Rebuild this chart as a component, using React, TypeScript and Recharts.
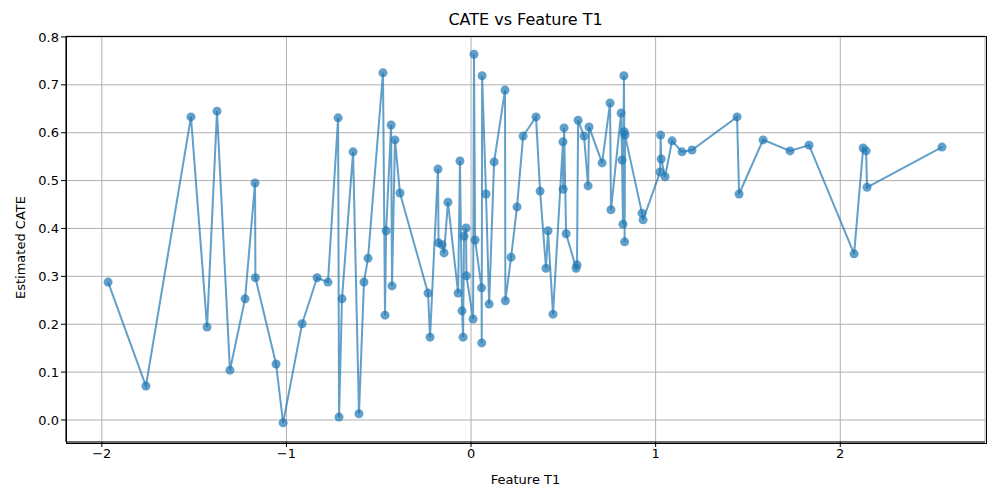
import { LineChart, Line, XAxis, YAxis, CartesianGrid, Label } from 'recharts';

const featureT1 = [
  -1.966, -1.761, -1.517, -1.43, -1.376, -1.306, -1.224, -1.17, -1.168, -1.056,
  -1.018, -0.915, -0.834, -0.775, -0.72, -0.715, -0.699, -0.639, -0.607, -0.58,
  -0.558, -0.477, -0.466, -0.46, -0.433, -0.428, -0.412, -0.385, -0.233, -0.222,
  -0.179, -0.176, -0.157, -0.146, -0.125, -0.07, -0.06, -0.049, -0.043, -0.038,
  -0.027, -0.025, 0.011, 0.016, 0.022, 0.057, 0.058, 0.06, 0.081, 0.098,
  0.125, 0.184, 0.186, 0.217, 0.249, 0.282, 0.352, 0.374, 0.406, 0.417,
  0.444, 0.498, 0.499, 0.504, 0.515, 0.569, 0.574, 0.58, 0.612, 0.634,
  0.639, 0.71, 0.753, 0.758, 0.813, 0.818, 0.823, 0.828, 0.83, 0.832,
  0.834, 0.926, 0.932, 1.024, 1.027, 1.03, 1.051, 1.089, 1.143, 1.197,
  1.441, 1.452, 1.582, 1.728, 1.831, 2.075, 2.124, 2.14, 2.145, 2.551,
];

const cate = [
  0.288, 0.071, 0.633, 0.194, 0.645, 0.104, 0.253, 0.495, 0.297, 0.117,
  -0.006, 0.201, 0.297, 0.288, 0.631, 0.006, 0.253, 0.56, 0.013, 0.288,
  0.338, 0.725, 0.219, 0.395, 0.616, 0.28, 0.585, 0.474, 0.265, 0.173,
  0.524, 0.37, 0.366, 0.349, 0.455, 0.265, 0.541, 0.228, 0.173, 0.384,
  0.401, 0.301, 0.211, 0.764, 0.376, 0.276, 0.161, 0.719, 0.472, 0.242,
  0.539, 0.689, 0.249, 0.34, 0.445, 0.593, 0.633, 0.478, 0.317, 0.395,
  0.221, 0.581, 0.482, 0.61, 0.389, 0.317, 0.324, 0.626, 0.593, 0.489,
  0.612, 0.537, 0.662, 0.439, 0.641, 0.543, 0.409, 0.719, 0.602, 0.372,
  0.595, 0.432, 0.418, 0.518, 0.595, 0.545, 0.508, 0.583, 0.56, 0.564,
  0.633, 0.472, 0.585, 0.562, 0.574, 0.347, 0.568, 0.562, 0.486, 0.57,
];

const xTicks = [-2, -1, 0, 1, 2];
const yTicks = [0, 0.1, 0.2, 0.3, 0.4, 0.5, 0.6, 0.7, 0.8];

const data = featureT1.map((x, i) => ({ x, y: cate[i] }));

const font = 'DejaVu Sans';
const blue = '#1f77b4';
const minus = (s: string) => s.replace('-', '\u2212');

export default function App() {
  return (
    <div style={{ margin: -8, width: 1000, height: 500, background: '#fff', position: 'relative' }}>
      <div
        style={{
          position: 'absolute', top: 10, left: 66, width: 919, textAlign: 'center',
          fontFamily: font, fontSize: 16, color: '#000',
        }}
      >
        CATE vs Feature T1
      </div>
      <LineChart width={1000} height={500} data={data} margin={{ top: 36, right: 15, bottom: 0, left: 0 }}>
        <CartesianGrid stroke="#b0b0b0" strokeWidth={1} />
        <XAxis
          dataKey="x"
          type="number"
          domain={[-2.194, 2.784]}
          ticks={xTicks}
          height={58}
          stroke="#000"
          tickFormatter={(v: number) => minus(String(v))}
          tick={{ fill: '#000', fontFamily: font, fontSize: 13 }}
          tickSize={5}
        >
          <Label value="Feature T1" position="insideBottom" offset={16} fill="#000" fontFamily={font} fontSize={13} />
        </XAxis>
        <YAxis
          type="number"
          domain={[-0.046, 0.802]}
          ticks={yTicks}
          width={66}
          stroke="#000"
          tickFormatter={(v: number) => minus(v.toFixed(1))}
          tick={{ fill: '#000', fontFamily: font, fontSize: 13 }}
          tickSize={5}
        >
          <Label value="Estimated CATE" angle={-90} position="insideLeft" offset={20} dy={60} fill="#000" fontFamily={font} fontSize={13} />
        </YAxis>
        <Line
          dataKey="y"
          stroke={blue}
          strokeOpacity={0.7}
          strokeWidth={2}
          dot={{ r: 4.5, fill: blue, fillOpacity: 0.7, stroke: blue, strokeOpacity: 0.7, strokeWidth: 0 }}
          activeDot={false}
          isAnimationActive={false}
        />
      </LineChart>
      <div
        style={{
          position: 'absolute', left: 65.5, top: 35.5, width: 919, height: 406,
          border: '1px solid #000', pointerEvents: 'none',
        }}
      />
    </div>
  );
}
